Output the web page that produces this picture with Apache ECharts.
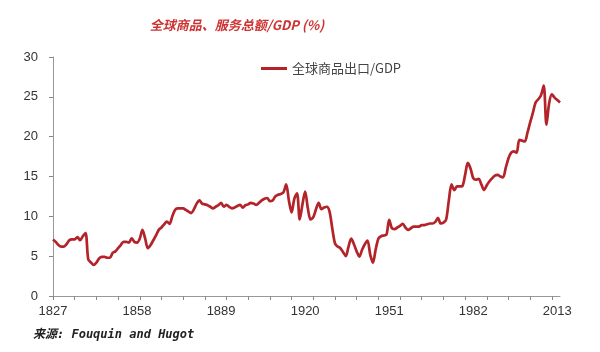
<!DOCTYPE html>
<html>
<head>
<meta charset="utf-8">
<script src="https://cdn.jsdelivr.net/npm/echarts@6/dist/echarts.min.js"></script>
<style>html,body{margin:0;padding:0;background:#fff;}#c{width:600px;height:352px;}</style>
</head>
<body>
<div id="c"></div>
<script>
const titleText = '全球商品、服务总额/GDP (%)';
const seriesName = '全球商品出口/GDP';
const sourceText = '来源: Fouquin and Hugot';
const years = [];
for (let y = 1827; y <= 2014; y++) years.push(String(y));
const values = [
  7.1, 6.8, 6.4, 6.2, 6.2, 6.5, 7.0, 7.1, 7.1, 7.4,      // 1827-1836
  7.0, 7.5, 7.9, 4.6, 4.2, 3.9, 4.2, 4.7, 4.9, 4.9,      // 1837-1846
  4.8, 4.8, 5.4, 5.6, 6.0, 6.4, 6.8, 6.8, 6.7, 7.25,     // 1847-1856
  6.8, 6.7, 7.2, 8.3, 7.2, 6.0, 6.4, 7.0, 7.6, 8.3,      // 1857-1866
  8.6, 9.0, 9.35, 9.05, 10.0, 10.8, 11.0, 11.0, 11.0, 10.8, // 1867-1876
  10.6, 10.4, 10.9, 11.6, 12.0, 11.6, 11.5, 11.4, 11.2, 11.0, // 1877-1886
  11.2, 11.4, 11.7, 11.2, 11.45, 11.2, 11.0, 11.1, 11.3, 11.45, // 1887-1896
  11.1, 11.4, 11.5, 11.7, 11.6, 11.45, 11.7, 12.0, 12.2, 12.3, // 1897-1906
  11.9, 12.0, 12.5, 12.7, 12.8, 13.0, 14.0, 12.0, 10.5, 12.2, // 1907-1916
  12.9, 9.6, 11.5, 13.1, 11.0, 9.6, 9.9, 10.9, 11.7, 10.9,  // 1917-1926
  11.1, 11.2, 10.6, 8.5, 6.6, 6.2, 6.0, 5.5, 5.0, 6.2,      // 1927-1936
  7.2, 6.5, 5.6, 4.95, 5.8, 6.5, 6.96, 5.2, 4.2, 5.8,       // 1937-1946
  7.2, 7.5, 7.6, 7.7, 9.55, 8.5, 8.4, 8.6, 8.8, 9.05,       // 1947-1956
  8.6, 8.3, 8.5, 8.7, 8.7, 8.7, 8.9, 8.9, 9.0, 9.1,         // 1957-1966
  9.1, 9.3, 9.8, 9.1, 9.2, 9.6, 12.0, 14.0, 13.3, 13.75,    // 1967-1976
  13.75, 13.8, 15.2, 16.7, 16.0, 14.8, 14.6, 14.7, 14.0, 13.3, // 1977-1986
  13.9, 14.4, 14.8, 15.1, 15.2, 15.0, 14.9, 16.1, 17.3, 18.0, // 1987-1996
  18.15, 18.0, 19.6, 19.5, 19.4, 20.5, 21.8, 23.0, 24.3, 24.7, // 1997-2006
  25.2, 26.4, 21.5, 24.2, 25.3, 24.9, 24.6, 24.3            // 2007-2014
];
const yTicks = [0, 5, 10, 15, 20, 25, 30];

const chart = echarts.init(document.getElementById('c'), null, {renderer: 'canvas'});
chart.setOption({
  animation: false,
  backgroundColor: '#ffffff',
  title: {
    text: titleText,
    left: 232, top: 14, textAlign: 'center',
    textStyle: {
      color: '#cc3333', fontSize: 13, fontStyle: 'italic', fontWeight: 'bold',
      fontFamily: '"Noto Sans CJK SC", sans-serif'
    }
  },
  legend: {
    data: [seriesName],
    left: 256, top: 57,
    itemWidth: 26, itemHeight: 3, itemGap: 6,
    icon: 'rect',
    textStyle: {color: '#444', fontSize: 13, fontFamily: '"Noto Sans CJK SC", sans-serif'}
  },
  graphic: [{
    type: 'text', left: 33, top: 329,
    style: {
      text: sourceText, fill: '#222',
      font: 'italic bold 12px "DejaVu Sans Mono", "Noto Sans CJK SC", monospace'
    }
  }],
  grid: {left: 53, right: 40, top: 57, bottom: 56, containLabel: false},
  xAxis: {
    type: 'category',
    data: years,
    boundaryGap: false,
    axisLine: {lineStyle: {color: '#999', width: 1}},
    axisTick: {show: true, interval: 7, length: 4, lineStyle: {color: '#888'}},
    axisLabel: {
      interval: 30, color: '#333', fontSize: 13, margin: 9,
      fontFamily: 'Arial, "Liberation Sans", sans-serif'
    },
    splitLine: {show: false}
  },
  yAxis: {
    type: 'value',
    min: yTicks[0], max: yTicks[yTicks.length - 1], interval: 5,
    axisLine: {show: true, lineStyle: {color: '#999', width: 1}},
    axisTick: {show: true, length: 4, lineStyle: {color: '#888'}},
    axisLabel: {
      color: '#333', fontSize: 13, margin: 15,
      fontFamily: 'Arial, "Liberation Sans", sans-serif'
    },
    splitLine: {show: false}
  },
  series: [{
    name: seriesName,
    type: 'line',
    data: values,
    showSymbol: false,
    symbol: 'none',
    smooth: 0.3,
    lineStyle: {color: '#b3232a', width: 2.7},
    itemStyle: {color: '#b3232a'}
  }]
});
</script>
</body>
</html>
